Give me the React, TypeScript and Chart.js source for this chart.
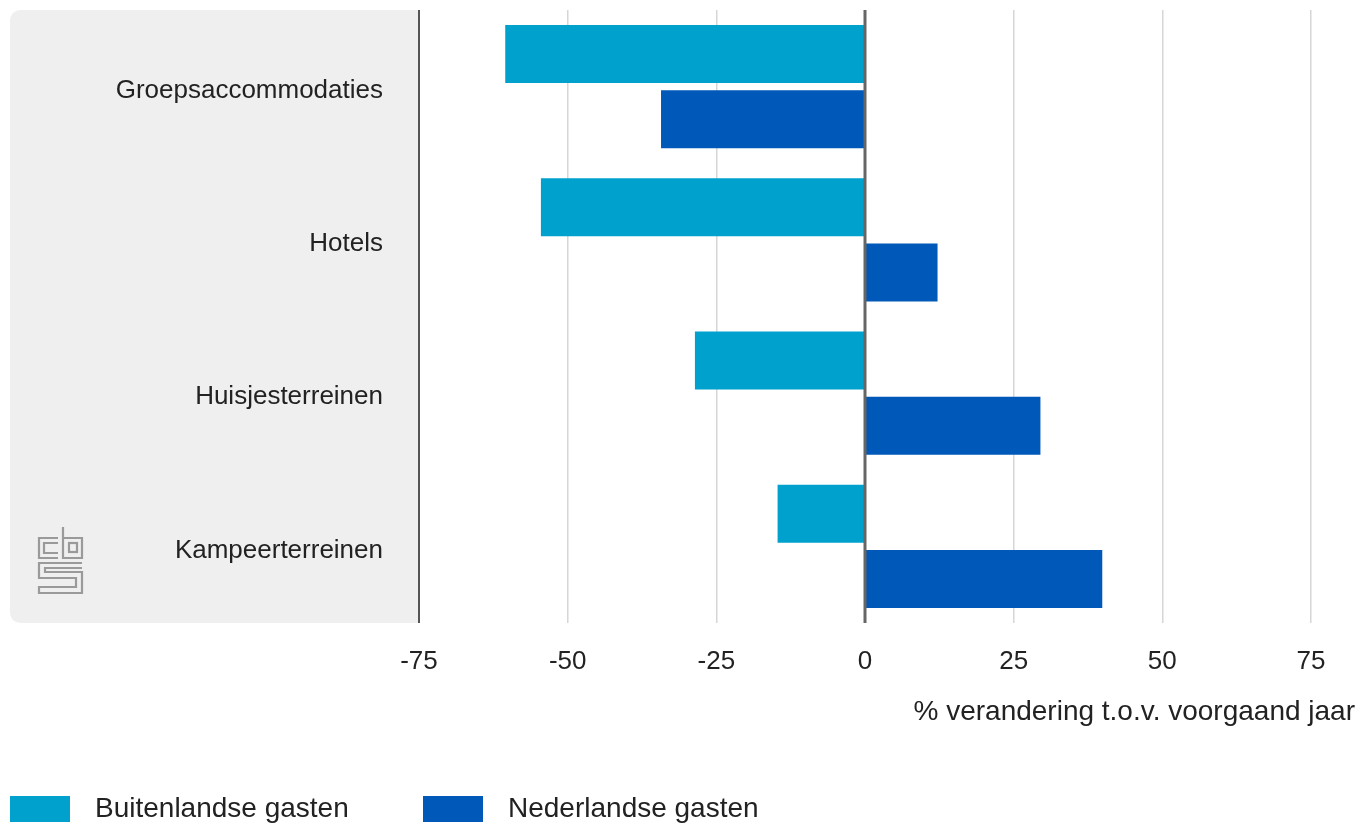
import React, { useEffect, useRef } from "react";
import { Chart, registerables } from "chart.js";

Chart.register(...registerables);

const categories = ["Groepsaccommodaties", "Hotels", "Huisjesterreinen", "Kampeerterreinen"];
const buitenlandse = [-60.5, -54.5, -28.6, -14.7];
const nederlandse = [-34.3, 12.2, 29.5, 39.9];
const seriesNames = ["Buitenlandse gasten", "Nederlandse gasten"];
const seriesColors = ["#00a1cd", "#0058b8"];
const xTicks = [-75, -50, -25, 0, 25, 50, 75];
const axisTitle = "% verandering t.o.v. voorgaand jaar";

const FONT = "'Liberation Sans', Arial, sans-serif";

const decorPlugin = {
  id: "decor",
  beforeDraw(chart: any) {
    const { ctx, chartArea } = chart;
    const x0 = 10, y0 = 10, r = 12;
    const x1 = chartArea.left, y1 = chartArea.bottom;
    ctx.save();
    ctx.fillStyle = "#efefef";
    ctx.beginPath();
    ctx.moveTo(x1, y0);
    ctx.lineTo(x0 + r, y0);
    ctx.quadraticCurveTo(x0, y0, x0, y0 + r);
    ctx.lineTo(x0, y1 - r);
    ctx.quadraticCurveTo(x0, y1, x0 + r, y1);
    ctx.lineTo(x1, y1);
    ctx.closePath();
    ctx.fill();
    ctx.restore();
  },
  afterDatasetsDraw(chart: any) {
    const { ctx, chartArea, scales } = chart;
    const xs = scales.x;
    ctx.save();
    const zx = xs.getPixelForValue(0);
    ctx.strokeStyle = "#666666";
    ctx.lineWidth = 3;
    ctx.beginPath();
    ctx.moveTo(zx, chartArea.top);
    ctx.lineTo(zx, chartArea.bottom);
    ctx.stroke();
    ctx.strokeStyle = "#555555";
    ctx.lineWidth = 2;
    ctx.beginPath();
    ctx.moveTo(chartArea.left, chartArea.top);
    ctx.lineTo(chartArea.left, chartArea.bottom);
    ctx.stroke();
    ctx.restore();
  },
  afterDraw(chart: any) {
    const { ctx } = chart;
    ctx.save();
    ctx.fillStyle = "#222222";
    ctx.font = `28px ${FONT}`;
    ctx.textAlign = "right";
    ctx.textBaseline = "middle";
    ctx.fillText(axisTitle, 1355, 712);

    const datasets = chart.data.datasets;
    const legendX = [10, 423];
    datasets.forEach((ds: any, i: number) => {
      const lx = legendX[i];
      ctx.fillStyle = ds.backgroundColor;
      ctx.fillRect(lx, 796, 60, 26);
      ctx.fillStyle = "#222222";
      ctx.textAlign = "left";
      ctx.font = `28px ${FONT}`;
      ctx.fillText(ds.label, lx + 85, 809);
    });

    ctx.strokeStyle = "#9a9a9a";
    ctx.lineWidth = 2.2;
    ctx.lineJoin = "miter";
    const seg = (pts: number[][]) => {
      ctx.beginPath();
      ctx.moveTo(pts[0][0], pts[0][1]);
      for (let k = 1; k < pts.length; k++) ctx.lineTo(pts[k][0], pts[k][1]);
      ctx.stroke();
    };
    seg([[58, 538], [39, 538], [39, 558], [58, 558]]);
    seg([[58, 543], [44, 543], [44, 553], [58, 553]]);
    seg([[63, 527], [63, 558], [82, 558], [82, 538], [63, 538]]);
    ctx.strokeRect(69, 543, 8, 9);
    seg([[82, 563], [39, 563], [39, 578], [76, 578], [76, 587], [39, 587], [39, 593], [82, 593], [82, 572], [45, 572], [45, 568], [82, 568]]);
    ctx.restore();
  },
};

export default function App() {
  const ref = useRef<HTMLCanvasElement | null>(null);
  useEffect(() => {
    if (!ref.current) return;
    const chart = new Chart(ref.current, {
      type: "bar",
      data: {
        labels: categories,
        datasets: [
          { label: seriesNames[0], data: buitenlandse, backgroundColor: seriesColors[0], borderWidth: 0 },
          { label: seriesNames[1], data: nederlandse, backgroundColor: seriesColors[1], borderWidth: 0 },
        ],
      },
      options: {
        indexAxis: "y",
        animation: false,
        responsive: true,
        maintainAspectRatio: false,
        layout: { padding: { left: 0, right: 61, top: 10, bottom: 0 } },
        datasets: { bar: { categoryPercentage: 0.85, barPercentage: 0.89 } },
        plugins: { legend: { display: false }, tooltip: { enabled: false }, title: { display: false } },
        scales: {
          x: {
            type: "linear",
            min: -75,
            max: 75,
            afterBuildTicks: (s: any) => {
              s.ticks = xTicks.map((v) => ({ value: v }));
            },
            afterFit: (s: any) => {
              s.height = 202;
              s.paddingLeft = 0;
              s.paddingRight = 0;
            },
            ticks: {
              font: { family: FONT, size: 26 },
              color: "#222222",
              padding: 23,
              maxRotation: 0,
            },
            grid: {
              drawTicks: false,
              color: (c: any) => (c.tick && (c.tick.value === 0 || c.tick.value === -75) ? "rgba(0,0,0,0)" : "#d6d6d6"),
              lineWidth: 1.5,
            },
            border: { display: false },
          },
          y: {
            afterFit: (s: any) => {
              s.width = 419;
              s.paddingTop = 0;
              s.paddingBottom = 0;
            },
            ticks: {
              font: { family: FONT, size: 26 },
              color: "#222222",
              padding: 36,
              labelOffset: 4,
            },
            grid: { display: false, drawTicks: false },
            border: { display: false },
          },
        },
      },
      plugins: [decorPlugin],
    });
    return () => chart.destroy();
  }, []);
  return (
    <div style={{ position: "absolute", left: 0, top: 0, width: 1372, height: 825, background: "#ffffff" }}>
      <canvas ref={ref} />
    </div>
  );
}
